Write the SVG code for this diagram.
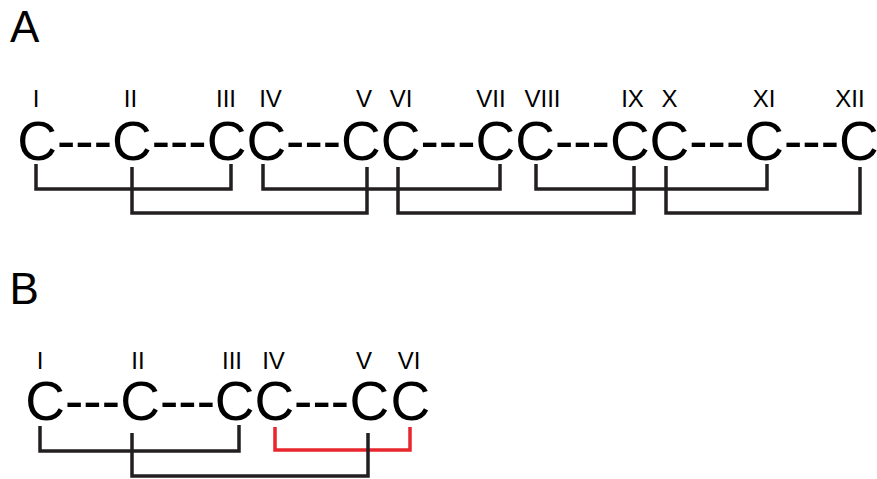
<svg xmlns="http://www.w3.org/2000/svg" width="877" height="479" viewBox="0 0 877 479">
  <style>
    .lbl { font-family: "Liberation Sans", Arial, sans-serif; font-size: 44px; fill: #000; }
    .c { font-family: "Liberation Sans", Arial, sans-serif; font-size: 55px; fill: #000; }
    .num { font-family: "Liberation Sans", Arial, sans-serif; font-size: 24px; fill: #000; text-anchor: middle; }
    .dash { font-family: "Liberation Sans", Arial, sans-serif; font-size: 55px; fill: #000; }
    .link { fill: none; stroke: #231f20; stroke-width: 3.5; stroke-linejoin: miter; }
    .red { fill: none; stroke: #e8262d; stroke-width: 3.5; stroke-linejoin: miter; }
  </style>
  <rect width="877" height="479" fill="#fff"/>

  <text class="lbl" x="10" y="42">A</text>
  <text class="lbl" x="9.5" y="303.5">B</text>

  <!-- Panel A nodes -->
  <g id="a1"><text class="num" x="36" y="106.5">I</text><text class="c" x="17.3" y="160">C</text></g>
  <g id="a2"><text class="num" x="130.5" y="106.5">II</text><text class="c" x="112" y="160">C</text></g>
  <g id="a3"><text class="num" x="226" y="106.5">III</text><text class="c" x="206.7" y="160">C</text></g>
  <g id="a4"><text class="num" x="270.5" y="106.5">IV</text><text class="c" x="246.4" y="160">C</text></g>
  <g id="a5"><text class="num" x="364" y="106.5">V</text><text class="c" x="341.1" y="160">C</text></g>
  <g id="a6"><text class="num" x="401" y="106.5">VI</text><text class="c" x="380.8" y="160">C</text></g>
  <g id="a7"><text class="num" x="491" y="106.5">VII</text><text class="c" x="475.5" y="160">C</text></g>
  <g id="a8"><text class="num" x="542.5" y="106.5">VIII</text><text class="c" x="515.2" y="160">C</text></g>
  <g id="a9"><text class="num" x="632.5" y="106.5">IX</text><text class="c" x="609.9" y="160">C</text></g>
  <g id="a10"><text class="num" x="669.5" y="106.5">X</text><text class="c" x="649.6" y="160">C</text></g>
  <g id="a11"><text class="num" x="764" y="106.5">XI</text><text class="c" x="744.3" y="160">C</text></g>
  <g id="a12"><text class="num" x="850" y="106.5">XII</text><text class="c" x="839" y="160">C</text></g>

  <!-- Panel B nodes -->
  <g id="b1"><text class="num" x="40" y="368.5">I</text><text class="c" x="25.3" y="419.5">C</text></g>
  <g id="b2"><text class="num" x="138" y="368.5">II</text><text class="c" x="120.3" y="419.5">C</text></g>
  <g id="b3"><text class="num" x="232" y="368.5">III</text><text class="c" x="214.7" y="419.5">C</text></g>
  <g id="b4"><text class="num" x="273.5" y="368.5">IV</text><text class="c" x="254.4" y="419.5">C</text></g>
  <g id="b5"><text class="num" x="364" y="368.5">V</text><text class="c" x="349.5" y="419.5">C</text></g>
  <g id="b6"><text class="num" x="409" y="368.5">VI</text><text class="c" x="390.5" y="419.5">C</text></g>

  <g id="connectors">
    <!-- backbone dashes, panel A -->
    <text class="dash" x="57" y="160">---</text>
    <text class="dash" x="151.7" y="160">---</text>
    <text class="dash" x="286.1" y="160">---</text>
    <text class="dash" x="420.5" y="160">---</text>
    <text class="dash" x="554.9" y="160">---</text>
    <text class="dash" x="689.3" y="160">---</text>
    <text class="dash" x="784" y="160">---</text>
    <!-- backbone dashes, panel B -->
    <text class="dash" x="65" y="419.5">---</text>
    <text class="dash" x="160" y="419.5">---</text>
    <text class="dash" x="294.1" y="419.5">---</text>

    <!-- panel A brackets -->
    <path class="link" d="M36,164 V189 H231 V164"/>
    <path class="link" d="M263,164 V189 H500 V164"/>
    <path class="link" d="M536,164 V189 H767 V164"/>
    <path class="link" d="M132,167 V213 H367 V167"/>
    <path class="link" d="M398,167 V213 H634 V166"/>
    <path class="link" d="M666,166 V213 H860 V167"/>

    <!-- panel B brackets -->
    <path class="red" d="M275,427 V450 H410 V427"/>
    <path class="link" d="M40,426 V451 H239 V425"/>
    <path class="link" d="M132,433 V476 H368 V433"/>
  </g>
</svg>
